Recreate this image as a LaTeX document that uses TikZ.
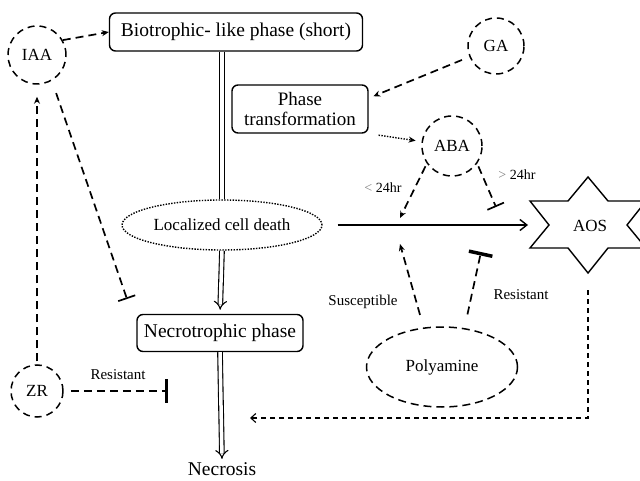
\documentclass[tikz,border=0pt]{standalone}
\usepackage{fontspec}
\setmainfont{Liberation Serif}
\usetikzlibrary{arrows.meta,shapes.geometric}
\begin{document}
\begin{tikzpicture}[x=1pt,y=-1pt,
  every node/.style={font=\fontsize{17}{19}\selectfont},
  big/.style={font=\fontsize{19.5}{21}\selectfont},
  small/.style={font=\fontsize{15}{17}\selectfont},
  tiny/.style={font=\fontsize{14}{16}\selectfont},
  box/.style={draw, rounded corners=6pt, line width=1.4pt, inner sep=0pt, align=center, big},
  hormone/.style={draw, circle, line width=1.5pt, dash pattern=on 7pt off 5pt, inner sep=0pt},
  dsh/.style={line width=1.7pt, dash pattern=on 8pt off 5pt},
  fdsh/.style={line width=1.1pt, dash pattern=on 5pt off 4pt},
  dots/.style={line width=1.4pt, dash pattern=on 1.4pt off 1.4pt},
  tip/.style={-{Stealth[length=7pt,width=6pt]}},
  barb/.style={-{Straight Barb[length=5pt,width=9pt,line width=1.1pt]}},
  inh/.style={-{Bar[width=18pt,line width=1.7pt]}},
  thickinh/.style={-{Bar[width=24pt,line width=3.5pt]}},
  dbl/.style={double distance=3.5pt, line width=1.1pt},
  dblarrow/.style={dbl, -{Implies[length=6pt]}}
]
\useasboundingbox (0,0) rectangle (640,481);
\clip (0,0) rectangle (640,481);

% nodes
\node[box, minimum width=253pt, minimum height=38pt] (bio) at (236,32) {Biotrophic- like phase (short)};
\node[box, minimum width=136pt, minimum height=48pt, font=\fontsize{19}{20}\selectfont] (pt) at (300,109) {Phase\\transformation};
\node[draw, ellipse, dots, minimum width=200pt, minimum height=50pt, inner sep=0pt] (lcd) at (222,225) {Localized cell death};
\node[box, minimum width=166pt, minimum height=37pt] (nec) at (220,333) {Necrotrophic phase};
\node[big] (necro) at (222,469) {Necrosis};

\node[hormone, minimum size=58pt] (iaa) at (37,55) {IAA};
\node[hormone, minimum size=56pt] (ga) at (496,46) {GA};
\node[hormone, minimum size=60pt] (aba) at (452,146) {ABA};
\node[hormone, minimum size=52pt] (zr) at (37,391) {ZR};
\node[draw, ellipse, line width=1.5pt, dash pattern=on 8pt off 5pt, minimum width=151pt, minimum height=80pt, inner sep=0pt] (poly) at (442,367) {Polyamine};

% AOS star
\draw[line width=1.4pt] (588,177) -- (568,201) -- (530,201) -- (549,225) -- (530,248) -- (568,248)
  -- (588,273) -- (608,248) -- (646,248) -- (627,225) -- (646,201) -- (608,201) -- cycle;
\node (aos) at (590,226) {AOS};
\coordinate (aosL) at (528,225);
\coordinate (aosB) at (588,273);

% free-end coordinates
\coordinate (c24) at (400,218);
\coordinate (c24b) at (496,207);
\coordinate (csus) at (400,244);
\coordinate (cres) at (481,252);
\coordinate (cfb) at (250,418);
\coordinate (czr) at (168,391);
\coordinate (ciaa) at (127,299);

% main pathway
\draw[dbl] (lcd.north |- bio.south) -- (lcd.north);
\draw[dblarrow, shorten >=4pt] (lcd.south) -- (nec.north);
\draw[dblarrow] (nec.south) -- (necro.north);
\draw[line width=1.4pt, -{Straight Barb[length=7pt,width=11pt,line width=1.4pt]}, shorten <=15pt] (lcd.east) -- (aosL);

% hormone links
\draw[dsh, tip] (iaa.30) -- (bio.west);
\draw[dsh, tip, shorten <=8pt, shorten >=5pt] (ga) -- (pt.9);
\draw[dots, tip, shorten <=10pt, shorten >=6pt] (pt.south east) -- (aba);
\draw[dsh, tip, shorten <=3pt] (aba.215) -- (c24);
\draw[dsh, inh, shorten <=3pt] (aba.-35) -- (c24b);
\draw[dsh, tip, shorten <=13pt] (poly.115) -- (csus);
\draw[dsh, thickinh, shorten <=14pt] (poly.60) -- (cres);
\draw[fdsh, barb, shorten <=17pt] (aosB) |- (cfb);
\draw[dsh, thickinh, shorten <=7pt] (zr) -- (czr);
\draw[dsh, tip, shorten <=3pt, shorten >=12pt] (zr) -- (iaa);
\draw[dsh, inh, shorten <=13pt] (iaa.-60) -- (ciaa);

% labels
\node[tiny] (l1) at (383,188) {\textcolor{gray}{<} 24hr};
\node[tiny] (l2) at (517,175) {\textcolor{gray}{>} 24hr};
\node[small] (l3) at (363,302) {Susceptible};
\node[small] (l4) at (521,295) {Resistant};
\node[small] (l5) at (118,375) {Resistant};
\end{tikzpicture}
\end{document}
